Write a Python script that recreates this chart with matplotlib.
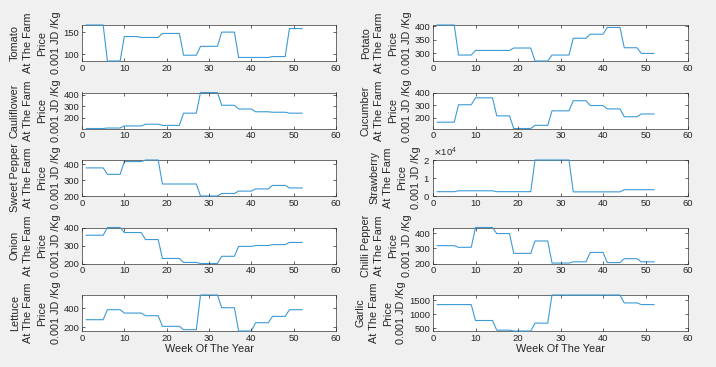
import matplotlib
matplotlib.use('Agg')
import matplotlib.pyplot as plt
from matplotlib.ticker import ScalarFormatter

plt.rcParams['font.family'] = ['Liberation Sans', 'DejaVu Sans']

weeks = list(range(1, 53))

tomato = [166, 166, 166, 166, 166, 85, 85, 85, 85, 140, 140, 140, 140,
          138, 138, 138, 138, 138, 147, 147, 147, 147, 147, 98, 98, 98, 98,
          118, 118, 118, 118, 118, 150, 150, 150, 150, 93, 93, 93, 93, 93,
          93, 93, 93, 95, 95, 95, 95, 158, 158, 158, 158]
potato = [405, 405, 405, 405, 405, 294, 294, 294, 294, 311, 311, 311, 311,
          311, 311, 311, 311, 311, 320, 320, 320, 320, 320, 272, 272, 272,
          272, 294, 294, 294, 294, 294, 356, 356, 356, 356, 371, 371, 371,
          371, 396, 396, 396, 396, 321, 321, 321, 321, 300, 300, 300, 300]
cauliflower = [108, 108, 108, 108, 108, 112, 112, 112, 112, 130, 130, 130,
               130, 130, 145, 145, 145, 145, 135, 135, 135, 135, 135, 240,
               240, 240, 240, 418, 418, 418, 418, 418, 308, 308, 308, 308,
               276, 276, 276, 276, 252, 252, 252, 252, 248, 248, 248, 248,
               240, 240, 240, 240]
cucumber = [165, 165, 165, 165, 165, 303, 303, 303, 303, 358, 358, 358, 358,
            358, 215, 215, 215, 215, 115, 115, 115, 115, 115, 140, 140, 140,
            140, 255, 255, 255, 255, 255, 335, 335, 335, 335, 297, 297, 297,
            297, 270, 270, 270, 270, 208, 208, 208, 208, 230, 230, 230, 230]
sweet_pepper = [378, 378, 378, 378, 378, 337, 337, 337, 337, 418, 418, 418,
                418, 418, 428, 428, 428, 428, 276, 276, 276, 276, 276, 276,
                276, 276, 276, 200, 200, 200, 200, 200, 216, 216, 216, 216,
                231, 231, 231, 231, 245, 245, 245, 245, 267, 267, 267, 267,
                251, 251, 251, 251]
strawberry = [2400, 2400, 2400, 2400, 2400, 2900, 2900, 2900, 2900, 2900,
              2900, 2900, 2900, 2900, 2400, 2400, 2400, 2400, 2400, 2400,
              2400, 2400, 2400, 20000, 20000, 20000, 20000, 20000, 20000,
              20000, 20000, 20000, 2300, 2300, 2300, 2300, 2300, 2300, 2300,
              2300, 2300, 2300, 2300, 2300, 3500, 3500, 3500, 3500, 3500,
              3500, 3500, 3500]
onion = [357, 357, 357, 357, 357, 400, 400, 400, 400, 372, 372, 372, 372,
         372, 333, 333, 333, 333, 228, 228, 228, 228, 228, 206, 206, 206,
         206, 200, 200, 200, 200, 200, 240, 240, 240, 240, 295, 295, 295,
         295, 300, 300, 300, 300, 305, 305, 305, 305, 317, 317, 317, 317]
chilli_pepper = [318, 318, 318, 318, 318, 307, 307, 307, 307, 438, 438, 438,
                 438, 438, 398, 398, 398, 398, 267, 267, 267, 267, 267, 349,
                 349, 349, 349, 203, 203, 203, 203, 203, 211, 211, 211, 211,
                 273, 273, 273, 273, 206, 206, 206, 206, 232, 232, 232, 232,
                 211, 211, 211, 211]
lettuce = [277, 277, 277, 277, 277, 382, 382, 382, 382, 347, 347, 347, 347,
           347, 319, 319, 319, 319, 207, 207, 207, 207, 207, 172, 172, 172,
           172, 537, 537, 537, 537, 537, 403, 403, 403, 403, 158, 158, 158,
           158, 245, 245, 245, 245, 312, 312, 312, 312, 382, 382, 382, 382]
garlic = [1347, 1347, 1347, 1347, 1347, 1347, 1347, 1347, 1347, 776, 776,
          776, 776, 776, 430, 430, 430, 430, 400, 400, 400, 400, 400, 682,
          682, 682, 682, 1690, 1690, 1690, 1690, 1690, 1690, 1690, 1690,
          1690, 1690, 1690, 1690, 1690, 1690, 1690, 1690, 1690, 1406, 1406,
          1406, 1406, 1347, 1347, 1347, 1347]

crops = ["Tomato", "Potato", "Cauliflower", "Cucumber", "Sweet Pepper",
         "Strawberry", "Onion", "Chilli Pepper", "Lettuce", "Garlic"]
series = [tomato, potato, cauliflower, cucumber, sweet_pepper, strawberry,
          onion, chilli_pepper, lettuce, garlic]
yticks = [[100, 150], [300, 350, 400], [200, 300, 400], [200, 300, 400],
          [200, 300, 400], [0, 10000, 20000], [200, 300, 400],
          [200, 300, 400], [200, 400], [500, 1000, 1500]]
ylims = [(85, 166), (272, 405), (108, 418), (115, 400), (200, 428),
         (0, 20000), (200, 400), (203, 438), (158, 537), (400, 1690)]
xticks = [0, 10, 20, 30, 40, 50, 60]
xlabel = "Week Of The Year"

W, H = 716, 367
fig = plt.figure(figsize=(W / 100, H / 100), dpi=100, facecolor='#F0F0F0')

col_left = [82, 433]
col_width = [254, 255]
ax_h = 36
tc = '#262626'
line_color = '#3C9BD8'

for i, (name, vals) in enumerate(zip(crops, series)):
    row, col = divmod(i, 2)
    top = 25 + row * 67.5
    ax = fig.add_axes([col_left[col] / W, 1 - (top + ax_h) / H,
                       col_width[col] / W, ax_h / H])
    ax.set_facecolor('white')
    ax.plot(weeks, vals, color=line_color, lw=0.8, clip_on=False, zorder=1)
    ax.set_xlim(0, 60)
    ax.set_ylim(*ylims[i])
    ax.set_xticks(xticks)
    ax.set_yticks(yticks[i])
    ax.tick_params(direction='in', top=True, right=True, length=2.5,
                   width=0.5, colors=tc, labelsize=6.8, pad=2,
                   labelcolor=tc)
    for sp in ax.spines.values():
        sp.set_color('#555555')
        sp.set_linewidth(0.6)
        sp.set_zorder(0.5)
    if name == "Strawberry":
        fmt = ScalarFormatter(useMathText=True)
        fmt.set_powerlimits((0, 0))
        ax.yaxis.set_major_formatter(fmt)
        ax.yaxis.get_offset_text().set_fontsize(6.8)
        ax.yaxis.get_offset_text().set_color(tc)
    ax.set_ylabel(f"{name}\nAt The Farm\nPrice\n0.001 JD /Kg",
                  fontsize=7.8, color=tc, linespacing=1.45, labelpad=2)
    if row == 4:
        ax.set_xlabel(xlabel, fontsize=7.8, color=tc, labelpad=1)

fig.savefig('out.png', dpi=100, facecolor=fig.get_facecolor())
